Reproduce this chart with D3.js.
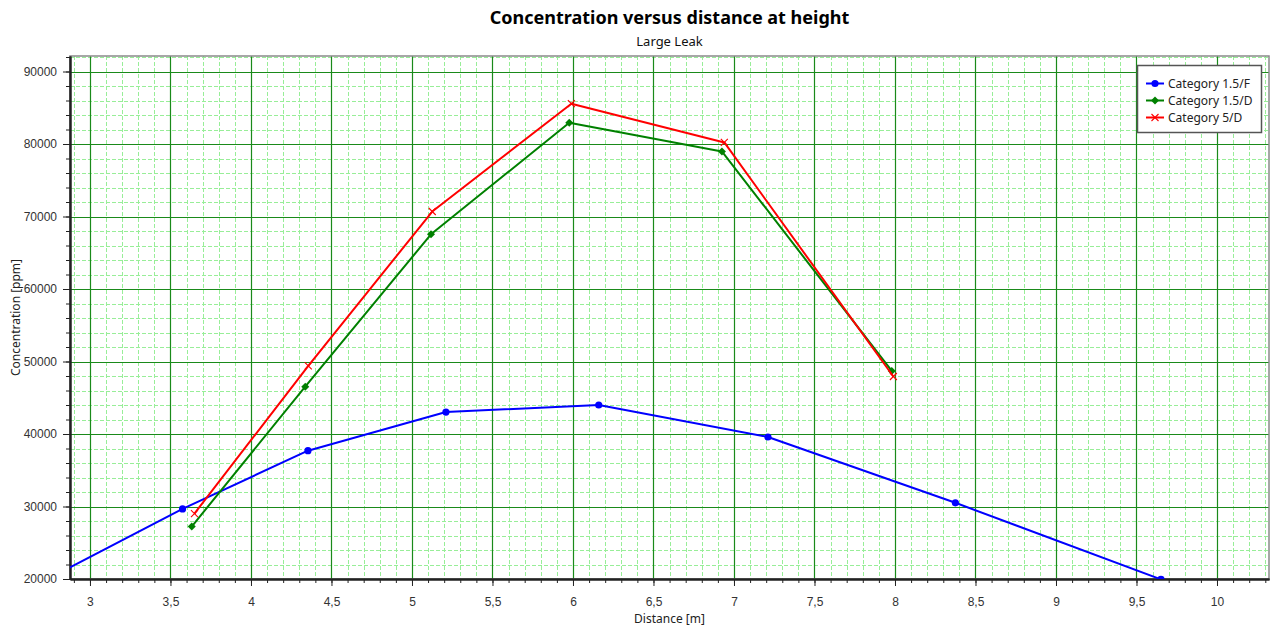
<!DOCTYPE html>
<html>
<head>
<meta charset="utf-8">
<script src="https://cdn.jsdelivr.net/npm/d3@7"></script>
<style>
  html, body { margin: 0; padding: 0; background: #fff; }
  svg { display: block; font-family: "Noto Sans", "Open Sans", sans-serif; }
</style>
</head>
<body>
<svg id="chart" width="1274" height="630"></svg>
<script>
// ---- data ----
const seriesNames = ["Category 1.5/F", "Category 1.5/D", "Category 5/D"];
const seriesColors = ["#0000FF", "#008000", "#FF0000"];
const seriesMarkers = ["circle", "diamond", "cross"];

const distF = [2.70, 3.575, 4.354, 5.211, 6.160, 7.211, 8.375, 9.652];
const concF = [19570, 29670, 37700, 43030, 44000, 39590, 30510, 19950];

const distD15 = [3.632, 4.337, 5.118, 5.977, 6.925, 7.980];
const concD15 = [27240, 46530, 67540, 82940, 78980, 48700];

const distD5 = [3.649, 4.356, 5.126, 5.990, 6.940, 7.990];
const concD5 = [29030, 49390, 70690, 85560, 80220, 47930];

const xTicks = [3, 3.5, 4, 4.5, 5, 5.5, 6, 6.5, 7, 7.5, 8, 8.5, 9, 9.5, 10];
const yTicks = [20000, 30000, 40000, 50000, 60000, 70000, 80000, 90000];

const titleText = "Concentration versus distance at height";
const subtitleText = "Large Leak";
const xTitle = "Distance [m]";
const yTitle = "Concentration [ppm]";

const seriesData = [
  distF.map((d, i) => ({x: d, y: concF[i]})),
  distD15.map((d, i) => ({x: d, y: concD15[i]})),
  distD5.map((d, i) => ({x: d, y: concD5[i]}))
];

(function () {
// ---- layout ----
const svg = d3.select("#chart");
const pL = 70, pR = 1269, pT = 56, pB = 579;

const x = d3.scaleLinear().domain([2.876, 10.323]).range([pL, pR]);
const y = d3.scaleLinear().domain([20000, 92140]).range([pB, pT]);

const xMinor = d3.range(29, 104).map(v => v / 10).filter(v => v >= 2.876 && v <= 10.323);
const yMinor = d3.range(20000, 92001, 2000);

svg.append("defs").append("clipPath").attr("id", "clip")
  .append("rect").attr("x", pL).attr("y", pT).attr("width", pR - pL).attr("height", pB - pT);

// minor grid
const grid = svg.append("g");
grid.selectAll("line.mx").data(xMinor).join("line")
  .attr("x1", d => Math.round(x(d)) + 0.5).attr("x2", d => Math.round(x(d)) + 0.5)
  .attr("y1", pT).attr("y2", pB)
  .attr("stroke", "#98EE98").attr("stroke-width", 1).attr("stroke-dasharray", "4,2");
grid.selectAll("line.my").data(yMinor).join("line")
  .attr("y1", d => Math.round(y(d)) + 0.5).attr("y2", d => Math.round(y(d)) + 0.5)
  .attr("x1", pL).attr("x2", pR)
  .attr("stroke", "#98EE98").attr("stroke-width", 1).attr("stroke-dasharray", "4,2");
// major grid
grid.selectAll("line.Mx").data(xTicks).join("line")
  .attr("x1", d => Math.round(x(d)) + 0.5).attr("x2", d => Math.round(x(d)) + 0.5)
  .attr("y1", pT).attr("y2", pB)
  .attr("stroke", "#1A8A1A").attr("stroke-width", 1.2);
grid.selectAll("line.My").data(yTicks).join("line")
  .attr("y1", d => Math.round(y(d)) + 0.5).attr("y2", d => Math.round(y(d)) + 0.5)
  .attr("x1", pL).attr("x2", pR)
  .attr("stroke", "#1A8A1A").attr("stroke-width", 1.2);

// border
svg.append("rect").attr("x", pL).attr("y", pT).attr("width", pR - pL).attr("height", pB - pT)
  .attr("fill", "none").attr("stroke", "#8a8a8a").attr("stroke-width", 1.5);

// axes
const fmtX = d => String(d).replace(".", ",");
const xAxisMajor = d3.axisBottom(x).tickValues(xTicks).tickFormat(fmtX).tickSize(7).tickSizeOuter(0).tickPadding(11);
const xAxisMinor = d3.axisBottom(x).tickValues(xMinor).tickFormat("").tickSize(4).tickSizeOuter(0);
const yAxisMajor = d3.axisLeft(y).tickValues(yTicks).tickFormat(d3.format("d")).tickSize(7).tickSizeOuter(0).tickPadding(6);
const yAxisMinor = d3.axisLeft(y).tickValues(yMinor).tickFormat("").tickSize(4).tickSizeOuter(0);

function styleAxis(g) {
  g.select(".domain").attr("stroke", "#222").attr("stroke-width", 2);
  g.selectAll(".tick line").attr("stroke", "#222");
  g.selectAll(".tick text").attr("fill", "#333").attr("font-size", 12);
}
svg.append("g").attr("transform", `translate(0,${pB})`).call(xAxisMinor).call(styleAxis);
svg.append("g").attr("transform", `translate(0,${pB})`).call(xAxisMajor).call(styleAxis);
svg.append("g").attr("transform", `translate(${pL},0)`).call(yAxisMinor).call(styleAxis);
svg.append("g").attr("transform", `translate(${pL},0)`).call(yAxisMajor).call(styleAxis);

// series
const plot = svg.append("g").attr("clip-path", "url(#clip)");
const line = d3.line().x(d => x(d.x)).y(d => y(d.y));
function marker(g, m, cx, cy, color) {
  if (m === "circle") {
    g.append("circle").attr("cx", cx).attr("cy", cy).attr("r", 3.6).attr("fill", color);
  } else if (m === "diamond") {
    g.append("path").attr("d", `M${cx},${cy-4}L${cx+4},${cy}L${cx},${cy+4}L${cx-4},${cy}Z`).attr("fill", color);
  } else {
    g.append("path").attr("d", `M${cx-3.5},${cy-3.5}L${cx+3.5},${cy+3.5}M${cx-3.5},${cy+3.5}L${cx+3.5},${cy-3.5}`)
      .attr("stroke", color).attr("stroke-width", 1.1).attr("fill", "none");
  }
}
seriesData.forEach((data, i) => {
  const color = seriesColors[i];
  plot.append("path").datum(data).attr("d", line)
    .attr("fill", "none").attr("stroke", color).attr("stroke-width", 2).attr("stroke-linejoin", "round");
  const g = plot.append("g");
  data.forEach(p => marker(g, seriesMarkers[i], x(p.x), y(p.y), color));
});

// titles
const cxPlot = (pL + pR) / 2;
svg.append("text").attr("x", cxPlot).attr("y", 24).attr("text-anchor", "middle")
  .attr("font-size", 18).attr("font-weight", "bold").attr("fill", "#000").text(titleText);
svg.append("text").attr("x", cxPlot).attr("y", 46).attr("text-anchor", "middle")
  .attr("font-size", 13).attr("fill", "#111").text(subtitleText);
svg.append("text").attr("x", cxPlot).attr("y", 623).attr("text-anchor", "middle")
  .attr("font-size", 12).attr("fill", "#222").text(xTitle);
svg.append("text").attr("transform", `translate(20,${(pT + pB) / 2}) rotate(-90)`).attr("text-anchor", "middle")
  .attr("font-size", 12).attr("fill", "#222").text(yTitle);

// legend
const lg = svg.append("g");
lg.append("rect").attr("x", 1137.5).attr("y", 65.5).attr("width", 124).attr("height", 67)
  .attr("fill", "#fff").attr("stroke", "#555").attr("stroke-width", 1.5);
seriesNames.forEach((name, i) => {
  const ly = 83.5 + i * 17;
  const color = seriesColors[i];
  lg.append("line").attr("x1", 1146).attr("x2", 1164).attr("y1", ly).attr("y2", ly)
    .attr("stroke", color).attr("stroke-width", 2);
  marker(lg, seriesMarkers[i], 1155, ly, color);
  lg.append("text").attr("x", 1168).attr("y", ly + 4).attr("font-size", 12).attr("fill", "#222").text(name);
});
})();
</script>
</body>
</html>
